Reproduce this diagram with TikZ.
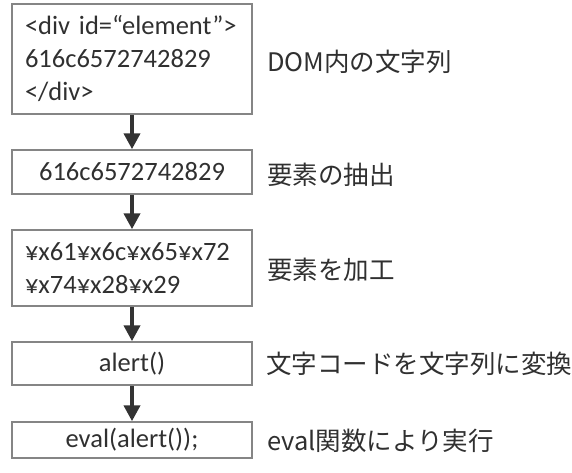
\documentclass[tikz,border=0pt]{standalone}
\usepackage{fontspec}
\setmainfont{Carlito}
\newfontfamily\jp{Noto Sans CJK JP}
\usetikzlibrary{arrows.meta}
\definecolor{boxline}{HTML}{858585}
\definecolor{txt}{HTML}{303030}
\definecolor{arrc}{HTML}{333333}
\tikzset{
  flowbox/.style={draw=boxline, line width=1.5pt, minimum width=240pt, inner sep=0pt,
    text=txt, font=\fontsize{26.5}{33}\selectfont},
  leftbox/.style={flowbox, text width=214pt, align=left},
  flowarrow/.style={draw=arrc, line width=4.5pt, -{Triangle[width=16pt,length=16pt]}},
  sidelabel/.style={anchor=west, inner sep=0pt, text=txt, font=\jp\fontsize{25.5}{30}\selectfont}
}
\begin{document}
\begin{tikzpicture}[x=1pt,y=-1pt]
\useasboundingbox (0,0) rectangle (572,472);
\node[leftbox, minimum height=110pt] (b1) at (132,59) {<div id=“element”>\\616c6572742829\\</div>};
\node[flowbox, minimum height=44pt] (b2) at (132,172) {616c6572742829};
\node[leftbox, minimum height=76pt] (b3) at (132,268) {¥x61¥x6c¥x65¥x72\\¥x74¥x28¥x29};
\node[flowbox, minimum height=43pt] (b4) at (132,363.5) {alert()};
\node[flowbox, minimum height=36pt] (b5) at (132,440) {eval(alert());};
\draw[flowarrow] (b1.south) -- (b2.north);
\draw[flowarrow] (b2.south) -- (b3.north);
\draw[flowarrow] (b3.south) -- (b4.north);
\draw[flowarrow] (b4.south) -- (b5.north);
\node[sidelabel] (l1) at (267,62) {DOM内の文字列};
\node[sidelabel] (l2) at (267,175) {要素の抽出};
\node[sidelabel] (l3) at (267,270) {要素を加工};
\node[sidelabel] (l4) at (266,364) {文字コードを文字列に変換};
\node[sidelabel] (l5) at (267,441) {eval関数により実行};
\end{tikzpicture}
\end{document}
